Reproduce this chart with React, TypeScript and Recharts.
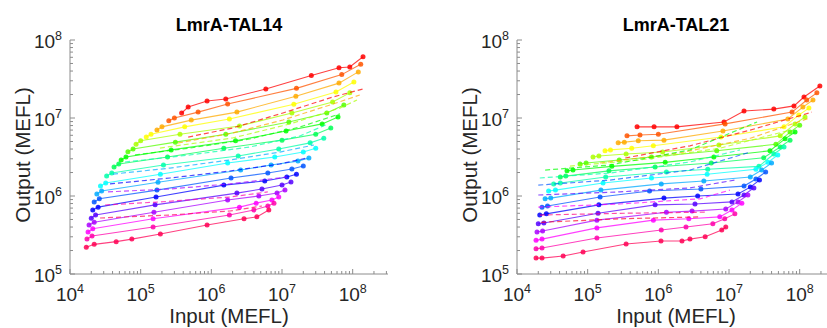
import { ScatterChart, Scatter, XAxis, YAxis } from 'recharts'

// [input, output] in MEFL (top curve first)
const tal14Curves: number[][][] = [
  [[3.8e5, 1.16e7], [4.7e5, 1.38e7], [8.7e5, 1.65e7], [1.6e6, 1.75e7], [5.9e6, 2.35e7], [2.6e7, 3.5e7], [6.4e7, 4.4e7], [9.1e7, 4.5e7], [1.4e8, 6.1e7]],
  [[2.5e5, 9.2e6], [3.0e5, 1.0e7], [6.5e5, 1.19e7], [1.7e6, 1.51e7], [1.6e7, 2.4e7], [7.0e7, 3.6e7], [1.3e8, 4.9e7]],
  [[1.7e5, 7.0e6], [2.0e5, 7.7e6], [5.2e5, 9.4e6], [2.3e6, 1.19e7], [1.57e7, 1.9e7], [6.4e7, 2.8e7], [1.2e8, 3.9e7]],
  [[1.2e5, 5.7e6], [1.4e5, 6.2e6], [4.2e5, 7.7e6], [1.8e6, 9.7e6], [1.47e7, 1.5e7], [5.8e7, 2.15e7], [1.04e8, 2.9e7]],
  [[8.6e4, 4.6e6], [1.0e5, 5.1e6], [3.6e5, 6.2e6], [2.5e6, 7.9e6], [1.38e7, 1.16e7], [5.2e7, 1.6e7], [9.1e7, 2.1e7]],
  [[6.6e4, 3.7e6], [7.8e4, 4.0e6], [3.1e5, 4.9e6], [1.6e6, 6.2e6], [1.25e7, 8.9e6], [4.3e7, 1.16e7], [7.5e7, 1.47e7]],
  [[5.3e4, 2.9e6], [6.2e4, 3.16e6], [2.7e5, 3.9e6], [2.2e6, 5.1e6], [1.14e7, 6.8e6], [3.7e7, 8.4e6], [6.2e7, 1.03e7]],
  [[4.2e4, 2.35e6], [4.9e4, 2.57e6], [2.4e5, 3.16e6], [1.5e6, 4.1e6], [1.0e7, 5.2e6], [3.0e7, 6.2e6], [4.9e7, 7.45e6]],
  [[3.3e4, 1.8e6], [3.9e4, 1.97e6], [2.1e5, 2.5e6], [2.4e6, 3.26e6], [9.0e6, 4.0e6], [2.5e7, 4.8e6], [3.9e7, 5.5e6]],
  [[2.7e4, 1.34e6], [3.2e4, 1.47e6], [1.9e5, 1.9e6], [1.7e6, 2.65e6], [7.9e6, 3.16e6], [2.0e7, 3.66e6], [3.0e7, 4.1e6]],
  [[2.4e4, 1.06e6], [2.8e4, 1.16e6], [1.76e5, 1.5e6], [2.6e6, 2.15e6], [7.0e6, 2.5e6], [1.68e7, 2.8e6], [2.4e7, 3.07e6]],
  [[2.2e4, 8.4e5], [2.6e4, 9.2e5], [1.7e5, 1.19e6], [1.9e6, 1.7e6], [6.3e6, 1.97e6], [1.38e7, 2.22e6], [2.0e7, 2.42e6]],
  [[2.1e4, 6.6e5], [2.5e4, 7.2e5], [1.65e5, 9.7e5], [1.5e6, 1.38e6], [5.7e6, 1.56e6], [1.17e7, 1.75e6], [1.6e7, 1.9e6]],
  [[2.0e4, 5.2e5], [2.3e4, 5.7e5], [1.6e5, 7.7e5], [2.3e6, 1.09e6], [5.2e6, 1.23e6], [1.0e7, 1.38e6], [1.34e7, 1.51e6]],
  [[1.86e4, 4.25e5], [2.2e4, 4.6e5], [1.54e5, 6.2e5], [1.7e6, 8.9e5], [4.7e6, 1.0e6], [8.5e6, 1.09e6], [1.1e7, 1.19e6]],
  [[1.8e4, 3.45e5], [2.1e4, 3.8e5], [1.5e5, 5.1e5], [2.5e6, 7.2e5], [4.3e6, 8.1e5], [7.2e6, 8.9e5], [9.0e6, 9.7e5]],
  [[1.74e4, 2.8e5], [2.05e4, 3.07e5], [1.5e5, 4.0e5], [1.8e6, 5.7e5], [4.0e6, 6.6e5], [6.3e6, 7.45e5], [7.7e6, 8.1e5]],
  [[1.7e4, 2.2e5], [2.2e4, 2.4e5], [4.5e4, 2.6e5], [7.5e4, 2.8e5], [1.9e5, 3.26e5], [8.7e5, 4.25e5], [2.9e6, 5.1e5], [4.4e6, 5.4e5], [6.5e6, 6.6e5]],
]

const tal14Fits: number[][][] = [
  [[4.7e5, 5.7e6], [2.0e6, 7.45e6], [1.03e7, 1.16e7], [5.25e7, 1.86e7], [1.39e8, 2.35e7]],
  [[3.37e5, 4.78e6], [2.0e6, 6.42e6], [1.03e7, 9.43e6], [5.25e7, 1.51e7], [1.26e8, 1.97e7]],
  [[1.87e5, 4.12e6], [2.0e6, 5.54e6], [1.29e7, 8.38e6], [6.6e7, 1.34e7], [1.15e8, 1.7e7]],
  [[8.3e4, 3.36e6], [5.0e5, 4.12e6], [3.5e6, 5.38e6], [1.79e7, 7.67e6], [6.6e7, 1.13e7]],
  [[6.0e4, 2.73e6], [5.0e5, 3.36e6], [3.5e6, 4.25e6], [1.79e7, 5.88e6], [4.46e7, 8.38e6]],
  [[4.06e4, 1.91e6], [2.6e5, 2.28e6], [1.83e6, 2.9e6], [9.3e6, 3.66e6], [2.83e7, 4.51e6]],
  [[3.68e4, 1.43e6], [2.6e5, 1.7e6], [1.83e6, 2.09e6], [9.3e6, 2.57e6], [2.25e7, 3.07e6]],
  [[3.45e4, 1.13e6], [2.6e5, 1.23e6], [1.83e6, 1.43e6], [1.17e7, 1.75e6]],
  [[3.13e4, 7.67e5], [1.87e5, 8.4e5], [1.83e6, 9.7e5], [6.3e6, 1.13e6]],
  [[2.66e4, 5.22e5], [2.6e5, 5.71e5], [1.83e6, 6.42e5], [5.2e6, 7.45e5]],
]

const tal21Curves: number[][][] = [
  [[5.0e5, 7.7e6], [8.7e5, 7.7e6], [1.83e6, 7.7e6], [8.5e6, 8.9e6], [1.63e7, 1.23e7], [4.3e7, 1.3e7], [8.3e7, 1.43e7], [1.15e8, 1.86e7], [1.93e8, 2.57e7]],
  [[3.6e5, 5.9e6], [5.5e5, 6.05e6], [1.0e6, 6.2e6], [8.8e6, 8.4e6], [7.8e7, 1.19e7], [1.26e8, 1.7e7], [1.75e8, 2.1e7]],
  [[2.7e5, 4.8e6], [3.3e5, 4.9e6], [5.2e5, 5.1e6], [1.2e6, 5.2e6], [8.2e6, 6.8e6], [6.8e7, 9.7e6], [1.11e8, 1.38e7], [1.54e8, 1.7e7]],
  [[1.76e5, 3.8e6], [2.1e5, 3.9e6], [4.2e5, 4.1e6], [8.5e5, 4.4e6], [7.7e6, 5.7e6], [6.0e7, 7.7e6], [9.7e7, 1.09e7], [1.35e8, 1.34e7]],
  [[1.19e5, 3.16e6], [1.44e5, 3.26e6], [3.5e5, 3.45e6], [1.15e6, 3.66e6], [7.2e6, 4.5e6], [5.3e7, 5.9e6], [8.6e7, 8.4e6], [1.19e8, 1.03e7]],
  [[7.8e4, 2.57e6], [9.5e4, 2.65e6], [2.8e5, 2.9e6], [8.0e5, 3.16e6], [6.7e6, 3.8e6], [4.6e7, 4.6e6], [7.3e7, 6.6e6], [1.0e8, 8.1e6]],
  [[5.1e4, 2.1e6], [6.2e4, 2.15e6], [2.2e5, 2.4e6], [1.25e6, 2.7e6], [6.1e6, 3.16e6], [3.8e7, 3.8e6], [6.2e7, 5.4e6], [8.6e7, 6.6e6]],
  [[4.1e4, 1.75e6], [4.9e4, 1.8e6], [2.0e5, 2.1e6], [9.0e5, 2.35e6], [5.6e6, 2.65e6], [3.1e7, 3.1e6], [5.3e7, 4.25e6], [7.3e7, 5.2e6]],
  [[3.3e4, 1.43e6], [4.1e4, 1.47e6], [1.8e5, 1.75e6], [1.3e6, 2.03e6], [5.0e6, 2.2e6], [2.65e7, 2.4e6], [4.3e7, 3.45e6], [6.0e7, 4.25e6]],
  [[2.8e4, 1.16e6], [3.5e4, 1.19e6], [1.65e5, 1.47e6], [8.0e5, 1.7e6], [4.9e6, 1.9e6], [2.4e7, 2.2e6], [3.55e7, 2.7e6], [4.9e7, 3.36e6]],
  [[2.5e4, 9.2e5], [3.0e4, 9.4e5], [1.54e5, 1.19e6], [1.1e6, 1.43e6], [4.4e6, 1.56e6], [2.0e7, 1.75e6], [2.9e7, 2.15e6], [4.0e7, 2.65e6]],
  [[2.26e4, 7.2e5], [2.7e4, 7.45e5], [1.5e5, 9.7e5], [7.5e5, 1.16e6], [4.0e6, 1.23e6], [1.63e7, 1.34e6], [2.4e7, 1.65e6], [3.3e7, 2.03e6]],
  [[2.1e4, 5.7e5], [2.6e4, 5.9e5], [1.44e5, 7.7e5], [1.2e6, 9.4e5], [3.6e6, 1.0e6], [1.34e7, 1.06e6], [2.0e7, 1.3e6], [2.7e7, 1.6e6]],
  [[2.0e4, 4.4e5], [2.4e4, 4.5e5], [1.4e5, 6.0e5], [9.0e5, 7.7e5], [3.3e6, 7.9e5], [1.1e7, 8.4e5], [1.63e7, 1.03e6], [2.25e7, 1.27e6]],
  [[1.92e4, 3.45e5], [2.3e4, 3.56e5], [1.35e5, 4.9e5], [1.3e6, 6.2e5], [3.0e6, 6.4e5], [9.0e6, 6.8e5], [1.34e7, 8.4e5], [1.85e7, 1.03e6]],
  [[1.86e4, 2.7e5], [2.26e4, 2.8e5], [1.35e5, 3.9e5], [8.5e5, 4.9e5], [2.7e6, 5.1e5], [7.4e6, 5.4e5], [1.1e7, 6.6e5], [1.52e7, 8.1e5]],
  [[1.86e4, 2.1e5], [2.26e4, 2.15e5], [1.35e5, 2.9e5], [1.1e6, 3.66e5], [2.46e6, 4.0e5], [5.9e6, 4.4e5], [8.7e6, 5.1e5], [1.21e7, 5.9e5]],
  [[1.86e4, 1.6e5], [2.26e4, 1.6e5], [4.5e4, 1.7e5], [8.6e4, 1.91e5], [3.5e5, 2.42e5], [1.09e6, 2.65e5], [2.16e6, 2.65e5], [2.8e6, 2.8e5], [4.6e6, 3.0e5], [7.9e6, 3.66e5], [9.0e6, 4.0e5]],
]

const tal21Fits: number[][][] = [
  [[3.4e5, 3.07e6], [2.8e6, 4.4e6], [2.0e7, 7.0e6], [1.49e8, 1.19e7]],
  [[1.49e5, 2.65e6], [2.0e6, 3.56e6], [2.0e7, 5.5e6], [1.39e8, 1.0e7]],
  [[5.6e4, 2.42e6], [5.5e5, 2.9e6], [7.4e6, 4.1e6], [7.3e7, 7.0e6]],
  [[2.5e4, 2.15e6], [2.07e5, 2.5e6], [2.8e6, 3.9e6], [2.5e7, 8.9e6]],
  [[2.1e4, 1.7e6], [2.07e5, 1.97e6], [2.8e6, 2.73e6], [1.43e7, 3.9e6]],
  [[2.0e4, 1.38e6], [2.07e5, 1.6e6], [2.8e6, 2.15e6], [2.0e7, 3.66e6]],
  [[2.0e4, 1.03e6], [2.86e5, 1.13e6], [2.8e6, 1.27e6], [1.21e7, 1.6e6]],
  [[2.0e4, 7.2e5], [2.86e5, 7.9e5], [3.9e6, 9.2e5], [1.03e7, 1.19e6]],
  [[2.1e4, 5.7e5], [2.86e5, 6.0e5], [4.6e6, 6.2e5]],
  [[2.2e4, 4.6e5], [2.86e5, 5.1e5], [3.9e6, 5.4e5]],
]

const curveHues = [0, 20, 40, 60, 80, 100, 120, 140, 160, 180, 200, 220, 240, 260, 280, 300, 320, 340]
const tal14FitHues = [0, 40, 80, 120, 160, 200, 240, 280, 320, 340]
const tal21FitHues = [0, 40, 80, 120, 160, 220, 260, 300, 330, 350]

const xDecades = [4, 5, 6, 7, 8]
const yDecades = [5, 6, 7, 8]
const minorSteps = [1, 2, 3, 4, 5, 6, 7, 8, 9]
const X_DOMAIN = [1e4, 3.16e8]
const Y_DOMAIN = [1e5, 1e8]

const xTicks = xDecades.flatMap((d) => minorSteps.map((m) => m * 10 ** d)).filter((v) => v <= X_DOMAIN[1])
const yTicks = yDecades.flatMap((d) => minorSteps.map((m) => m * 10 ** d)).filter((v) => v <= Y_DOMAIN[1])

const FONT = "'Liberation Sans', Arial, Helvetica, sans-serif"
const BOX = '#8c8c8c'
const INK = '#262626'

const isDecade = (v: number) => Math.abs(Math.log10(v) - Math.round(Math.log10(v))) < 1e-9
const tickLen = (v: number) => (isDecade(v) ? 5 : 3)

function Pow({ x, y, v, anchor }: { x: number; y: number; v: number; anchor: 'middle' | 'end' }) {
  return (
    <text x={x} y={y} textAnchor={anchor} fontSize={19} fontFamily={FONT} fill={INK}>
      10
      <tspan dy={-8} fontSize={12.5}>{Math.round(Math.log10(v))}</tspan>
    </text>
  )
}

function BottomTick({ x, y, payload }: any) {
  const v = payload.value
  return (
    <g>
      <line x1={x} x2={x} y1={y} y2={y - tickLen(v)} stroke={BOX} />
      {isDecade(v) && <Pow x={x} y={y + 27} v={v} anchor="middle" />}
    </g>
  )
}

function TopTick({ x, y, payload }: any) {
  return <line x1={x} x2={x} y1={y} y2={y + tickLen(payload.value)} stroke={BOX} />
}

function LeftTick({ x, y, payload }: any) {
  const v = payload.value
  return (
    <g>
      <line x1={x} x2={x + tickLen(v)} y1={y} y2={y} stroke={BOX} />
      {isDecade(v) && <Pow x={x - 8} y={y + 8} v={v} anchor="end" />}
    </g>
  )
}

function RightTick({ x, y, payload }: any) {
  return <line x1={x} x2={x - tickLen(payload.value)} y1={y} y2={y} stroke={BOX} />
}

const toPoints = (c: number[][]) => c.map(([x, y]) => ({ x, y }))
const hue = (h: number) => `hsl(${h}, 100%, 50%)`

interface PanelProps {
  title: string
  curves: number[][][]
  fits: number[][][]
  fitHues: number[]
  left: number
}

function Panel({ title, curves, fits, fitHues, left }: PanelProps) {
  return (
    <div style={{ position: 'absolute', left, top: 0, width: 414, height: 328 }}>
      <ScatterChart width={414} height={328} margin={{ top: 40, right: 26, bottom: 0, left: 0 }}>
        <XAxis xAxisId="b" type="number" dataKey="x" scale="log" domain={X_DOMAIN} allowDataOverflow
          ticks={xTicks} interval={0} tick={BottomTick} tickLine={false} tickSize={0} tickMargin={0}
          axisLine={{ stroke: BOX }} height={54} />
        <XAxis xAxisId="t" orientation="top" type="number" scale="log" domain={X_DOMAIN} allowDataOverflow
          ticks={xTicks} interval={0} tick={TopTick} tickLine={false} tickSize={0} tickMargin={0}
          axisLine={{ stroke: BOX }} height={0} />
        <YAxis yAxisId="l" type="number" dataKey="y" scale="log" domain={Y_DOMAIN} allowDataOverflow
          ticks={yTicks} interval={0} tick={LeftTick} tickLine={false} tickSize={0} tickMargin={0}
          axisLine={{ stroke: BOX }} width={70} />
        <YAxis yAxisId="r" orientation="right" type="number" scale="log" domain={Y_DOMAIN} allowDataOverflow
          ticks={yTicks} interval={0} tick={RightTick} tickLine={false} tickSize={0} tickMargin={0}
          axisLine={{ stroke: BOX }} width={0} />
        {curves.map((c, i) => {
          const col = hue(curveHues[i])
          return (
            <Scatter key={`c${i}`} xAxisId="b" yAxisId="l" data={toPoints(c)} fill={col}
              line={{ stroke: col, strokeWidth: 1.1, strokeOpacity: 0.75 }} lineType="joint"
              shape={(p: any) => <circle cx={p.cx} cy={p.cy} r={2.5} fill={col} fillOpacity={0.85} />}
              isAnimationActive={false} />
          )
        })}
        {fits.map((c, i) => {
          const col = hue(fitHues[i])
          return (
            <Scatter key={`f${i}`} xAxisId="b" yAxisId="l" data={toPoints(c)} fill={col}
              line={{ stroke: col, strokeWidth: 1.2, strokeOpacity: 0.7, strokeDasharray: '5 3' }}
              lineType="joint" shape={() => <g />} isAnimationActive={false} />
          )
        })}
      </ScatterChart>
      <svg width={414} height={328} style={{ position: 'absolute', left: 0, top: 0, pointerEvents: 'none' }}>
        <text x={229} y={31} textAnchor="middle" fontSize={18} fontWeight="bold" fontFamily={FONT} fill="#000">
          {title}
        </text>
        <text x={229} y={323} textAnchor="middle" fontSize={20.5} fontFamily={FONT} fill={INK}>
          Input (MEFL)
        </text>
        <text transform="translate(30,155) rotate(-90)" textAnchor="middle" fontSize={20.5} fontFamily={FONT} fill={INK}>
          Output (MEFL)
        </text>
      </svg>
    </div>
  )
}

export default function App() {
  return (
    <div style={{ position: 'absolute', left: 0, top: 0, width: 827, height: 328, overflow: 'hidden', background: '#fff' }}>
      <Panel title="LmrA-TAL14" curves={tal14Curves} fits={tal14Fits} fitHues={tal14FitHues} left={0} />
      <Panel title="LmrA-TAL21" curves={tal21Curves} fits={tal21Fits} fitHues={tal21FitHues} left={447} />
    </div>
  )
}
